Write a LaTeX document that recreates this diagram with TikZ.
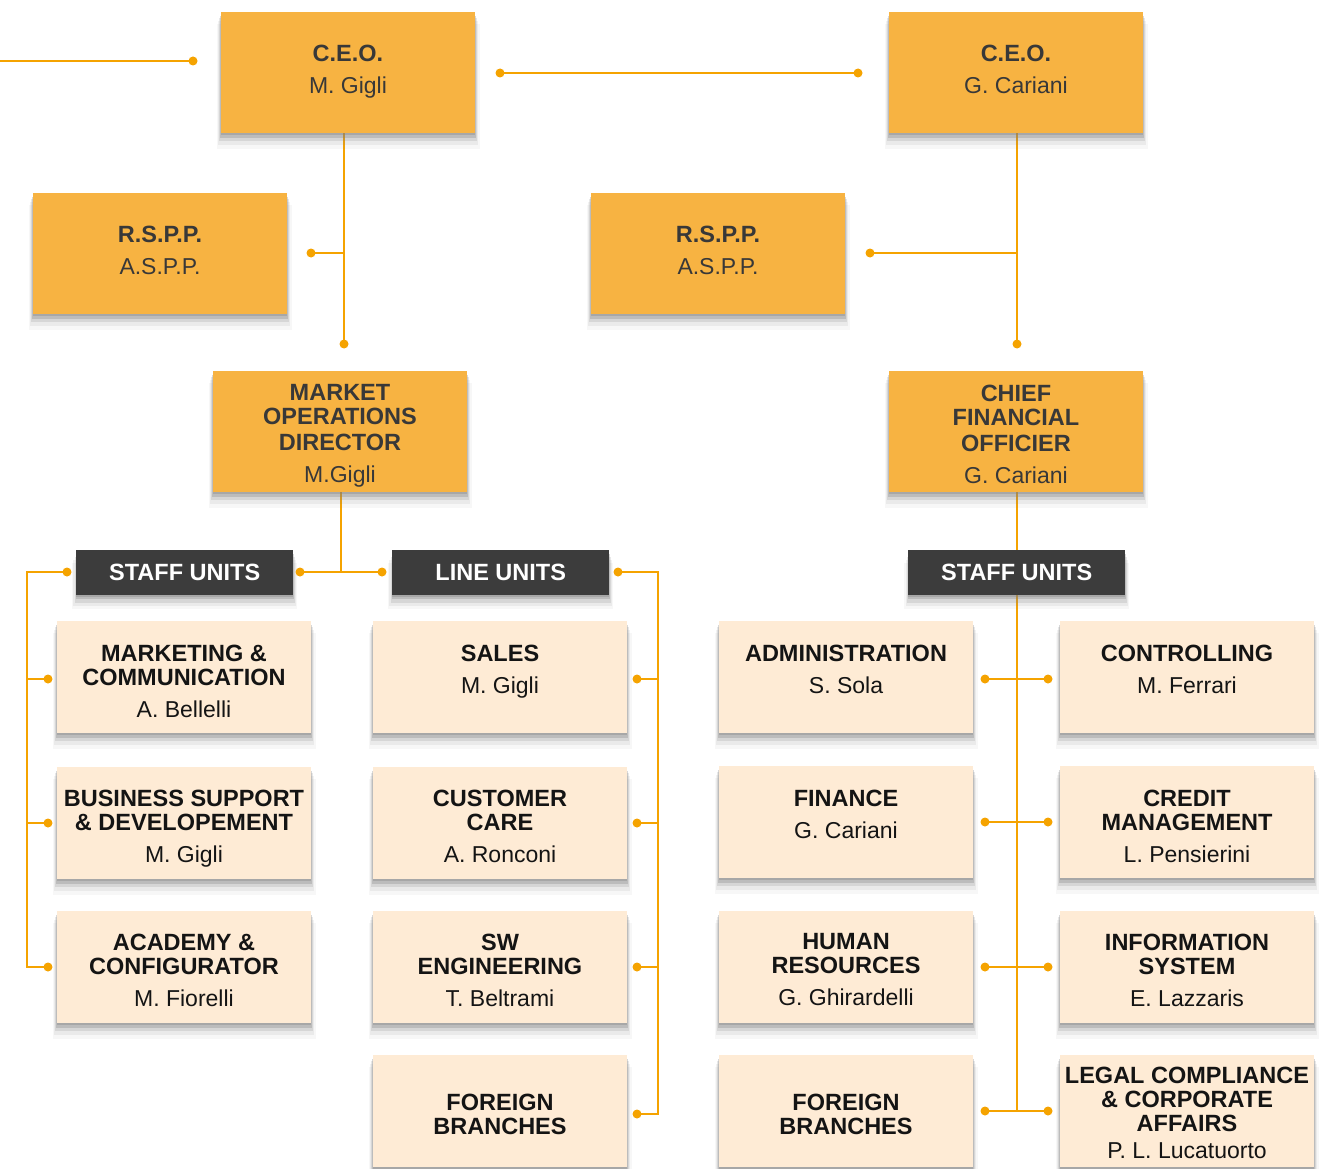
\documentclass[tikz,border=0pt]{standalone}
\usepackage{fontspec}
\setmainfont{Liberation Sans}
\usetikzlibrary{shadows,backgrounds,calc}
\definecolor{obc}{HTML}{F7B342}
\definecolor{lbc}{HTML}{FEEBD5}
\definecolor{dbc}{HTML}{3C3C3C}
\definecolor{lnc}{HTML}{F5A300}
\definecolor{txc}{HTML}{383838}
\definecolor{nmc}{HTML}{404040}
\newcommand\pname[1]{{\mdseries\fontsize{23}{24}\selectfont #1}}
\tikzset{
 sh/.style={drop shadow={shadow xshift=0pt,shadow yshift=-13pt,opacity=.06,shadow scale=1.035},
            drop shadow={shadow xshift=0pt,shadow yshift=-10pt,opacity=.10,shadow scale=1.025},
            drop shadow={shadow xshift=0pt,shadow yshift=-7pt,opacity=.18,shadow scale=1.015},
            drop shadow={shadow xshift=0pt,shadow yshift=-4pt,opacity=.30,shadow scale=1.006},
            drop shadow={shadow xshift=0pt,shadow yshift=-2pt,opacity=.35}},
 obox/.style={rectangle,fill=obc,minimum width=254pt,minimum height=121pt,inner sep=0,anchor=north west,sh},
 lbox/.style={rectangle,fill=lbc,minimum width=254pt,minimum height=112pt,inner sep=0,anchor=north west,sh},
 dbox/.style={rectangle,fill=dbc,minimum width=217pt,minimum height=45pt,inner sep=0,anchor=north west,sh,
              text=white,font=\fontsize{23.5}{24}\selectfont\bfseries},
 ttl/.style={anchor=north,inner sep=0,align=center,font=\fontsize{23.5}{24}\selectfont\bfseries},
 ott/.style={ttl,text=txc},
 ltt/.style={ttl,text=black!92},
 ln/.style={draw=lnc,line width=2pt},
 dotc/.style={fill=lnc}
}
\begin{document}
\begin{tikzpicture}[x=1pt,y=-1pt]
\useasboundingbox (0,0) rectangle (1338,1169);
% orange boxes
\node[obox] (ceoA) at (221,12) {};
\node[obox] (ceoB) at (889,12) {};
\node[obox] (rsppA) at (33,193) {};
\node[obox] (rsppB) at (591,193) {};
\node[obox] (mod) at (213,371) {};
\node[obox] (cfo) at (889,371) {};
\node[ott] (tceoA) at (348,44.5) {C.E.O.\\[8pt]\pname{M. Gigli}};
\node[ott] (tceoB) at (1016,44.5) {C.E.O.\\[8pt]\pname{G. Cariani}};
\node[ott] (trsppA) at (160,225.5) {R.S.P.P.\\[8pt]\pname{A.S.P.P.}};
\node[ott] (trsppB) at (718,225.5) {R.S.P.P.\\[8pt]\pname{A.S.P.P.}};
\node[ott] (tmod) at (340,384.5) {MARKET\\OPERATIONS\\[2pt]DIRECTOR\\[8pt]\pname{M.Gigli}};
\node[ott] (tcfo) at (1016,384.5) {CHIEF\\FINANCIAL\\[2pt]OFFICIER\\[8pt]\pname{G. Cariani}};
% dark boxes
\node[dbox] (suA) at (76,550) {STAFF UNITS};
\node[dbox] (luA) at (392,550) {LINE UNITS};
\node[dbox] (suB) at (908,550) {STAFF UNITS};
% light boxes
\node[lbox] (L1) at (57,621) {};
\node[lbox] (L2) at (57,767) {};
\node[lbox] (L3) at (57,911) {};
\node[lbox] (M1) at (373,621) {};
\node[lbox] (M2) at (373,767) {};
\node[lbox] (M3) at (373,911) {};
\node[lbox] (M4) at (373,1055) {};
\node[lbox] (Ra1) at (719,621) {};
\node[lbox] (Ra2) at (719,766) {};
\node[lbox] (Ra3) at (719,911) {};
\node[lbox] (Ra4) at (719,1055) {};
\node[lbox] (Rb1) at (1060,621) {};
\node[lbox] (Rb2) at (1060,766) {};
\node[lbox] (Rb3) at (1060,911) {};
\node[lbox] (Rb4) at (1060,1055) {};
\node[ltt] (tL1) at (184,644.5) {MARKETING \&\\COMMUNICATION\\[8pt]\pname{A. Bellelli}};
\node[ltt] (tL2) at (184,789.5) {BUSINESS SUPPORT\\\& DEVELOPEMENT\\[8pt]\pname{M. Gigli}};
\node[ltt] (tL3) at (184,933.5) {ACADEMY \&\\CONFIGURATOR\\[8pt]\pname{M. Fiorelli}};
\node[ltt] (tM1) at (500,644.5) {SALES\\[8pt]\pname{M. Gigli}};
\node[ltt] (tM2) at (500,789.5) {CUSTOMER\\CARE\\[8pt]\pname{A. Ronconi}};
\node[ltt] (tM3) at (500,933.5) {SW\\ENGINEERING\\[8pt]\pname{T. Beltrami}};
\node[ltt] (tM4) at (500,1093.5) {FOREIGN\\BRANCHES};
\node[ltt] (tRa1) at (846,644.5) {ADMINISTRATION\\[8pt]\pname{S. Sola}};
\node[ltt] (tRa2) at (846,789.5) {FINANCE\\[8pt]\pname{G. Cariani}};
\node[ltt] (tRa3) at (846,933.5) {HUMAN\\RESOURCES\\[8pt]\pname{G. Ghirardelli}};
\node[ltt] (tRa4) at (846,1093.5) {FOREIGN\\BRANCHES};
\node[ltt] (tRb1) at (1187,644.5) {CONTROLLING\\[8pt]\pname{M. Ferrari}};
\node[ltt] (tRb2) at (1187,789.5) {CREDIT\\MANAGEMENT\\[8pt]\pname{L. Pensierini}};
\node[ltt] (tRb3) at (1187,933.5) {INFORMATION\\SYSTEM\\[8pt]\pname{E. Lazzaris}};
\node[ltt] (tRb4) at (1187,1066.5) {LEGAL COMPLIANCE\\\& CORPORATE\\AFFAIRS\\[3pt]\pname{P. L. Lucatuorto}};
% coordinates
\coordinate (e0) at (0,61);
\coordinate (d0) at (193,61);
\coordinate (dA1) at (500,73);
\coordinate (dB1) at (858,73);
\coordinate (dA2) at (344,344);
\coordinate (dA3) at (311,253);
\coordinate (dB2) at (1017,344);
\coordinate (dB3) at (870,253);
\coordinate (dS1) at (300,572);
\coordinate (dS2) at (382,572);
\coordinate (dS3) at (67,572);
\coordinate (kL) at (27,572);
\coordinate (dL1) at (48,679);
\coordinate (dL2) at (48,823);
\coordinate (dL3) at (48,967);
\coordinate (dS4) at (618,572);
\coordinate (kR) at (658,572);
\coordinate (dR1) at (637,679);
\coordinate (dR2) at (637,823);
\coordinate (dR3) at (637,967);
\coordinate (dR4) at (637,1114);
\coordinate (kC) at (1017,572);
\coordinate (kM) at (341,572);
\coordinate (c1a) at (985,679); \coordinate (c1b) at (1048,679);
\coordinate (c2a) at (985,822); \coordinate (c2b) at (1048,822);
\coordinate (c3a) at (985,967); \coordinate (c3b) at (1048,967);
\coordinate (c4a) at (985,1111); \coordinate (c4b) at (1048,1111);
\begin{pgfonlayer}{background}
\fill[white] (0,0) rectangle (1338,1169);
\draw[ln] (e0) -- (d0);
\draw[ln] (dA1) -- (dB1);
\draw[ln] (ceoA.south -| dA2) -- (dA2);
\draw[ln] (dA3) -- (dA3 -| dA2);
\draw[ln] (ceoB.south -| dB2) -- (dB2);
\draw[ln] (dB3) -- (dB3 -| dB2);
\draw[ln] (mod.south -| kM) -- (kM);
\draw[ln] (dS1) -- (dS2);
\draw[ln] (dS3) -- (kL) -- (dL3 -| kL) -- (dL3);
\draw[ln] (dL1 -| kL) -- (dL1);
\draw[ln] (dL2 -| kL) -- (dL2);
\draw[ln] (dS4) -- (kR) -- (dR4 -| kR) -- (dR4);
\draw[ln] (dR1 -| kR) -- (dR1);
\draw[ln] (dR2 -| kR) -- (dR2);
\draw[ln] (dR3 -| kR) -- (dR3);
\draw[ln] (cfo.south -| kC) -- (c4a -| kC);
\draw[ln] (c1a) -- (c1b);
\draw[ln] (c2a) -- (c2b);
\draw[ln] (c3a) -- (c3b);
\draw[ln] (c4a) -- (c4b);
\end{pgfonlayer}
\foreach \p in {d0,dA1,dB1,dA2,dA3,dB2,dB3,dS1,dS2,dS3,dL1,dL2,dL3,dS4,dR1,dR2,dR3,dR4,c1a,c1b,c2a,c2b,c3a,c3b,c4a,c4b}
  \fill[dotc] (\p) circle[radius=4.5pt];
\end{tikzpicture}
\end{document}
